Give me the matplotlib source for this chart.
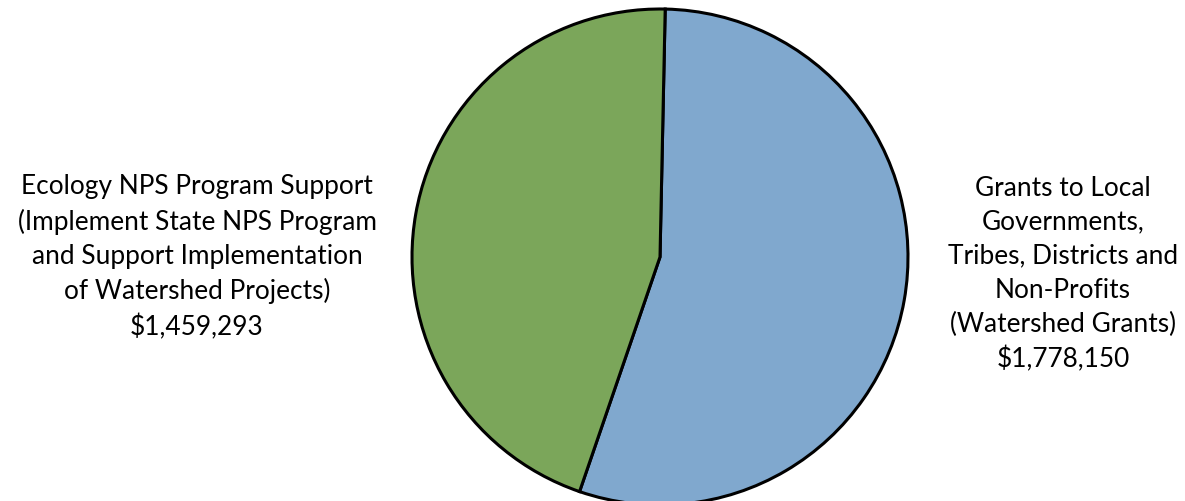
import matplotlib.pyplot as plt

# Data
labels = ["Grants to Local\nGovernments,\nTribes, Districts and\nNon-Profits\n(Watershed Grants)",
          "Ecology NPS Program Support\n(Implement State NPS Program\nand Support Implementation\nof Watershed Projects)"]
values = [1778150, 1459293]
colors = ["#80A8CE", "#7BA65A"]

fig = plt.figure(figsize=(11.85, 5.01), dpi=100)
ax = fig.add_axes([0, 0, 1, 1])

# pie drawn in pixel coordinates (y up)
ax.pie(values, colors=colors, startangle=88.8, counterclock=False,
       center=(660, 244), radius=248, frame=True,
       wedgeprops=dict(edgecolor="black", linewidth=2.2))
ax.set_xlim(0, 1185)
ax.set_ylim(0, 501)
ax.set_aspect("equal")
ax.axis("off")

plt.rcParams['font.family'] = ['Lato', 'DejaVu Sans']

# labels with dollar amounts
ax.text(1063, 227, f"{labels[0]}\n${values[0]:,}", ha="center", va="center",
        fontsize=18.9, linespacing=1.45)
ax.text(197, 244, f"{labels[1]}\n${values[1]:,}", ha="center", va="center",
        fontsize=18.9, linespacing=1.45)

fig.savefig("out.png", dpi=100)
